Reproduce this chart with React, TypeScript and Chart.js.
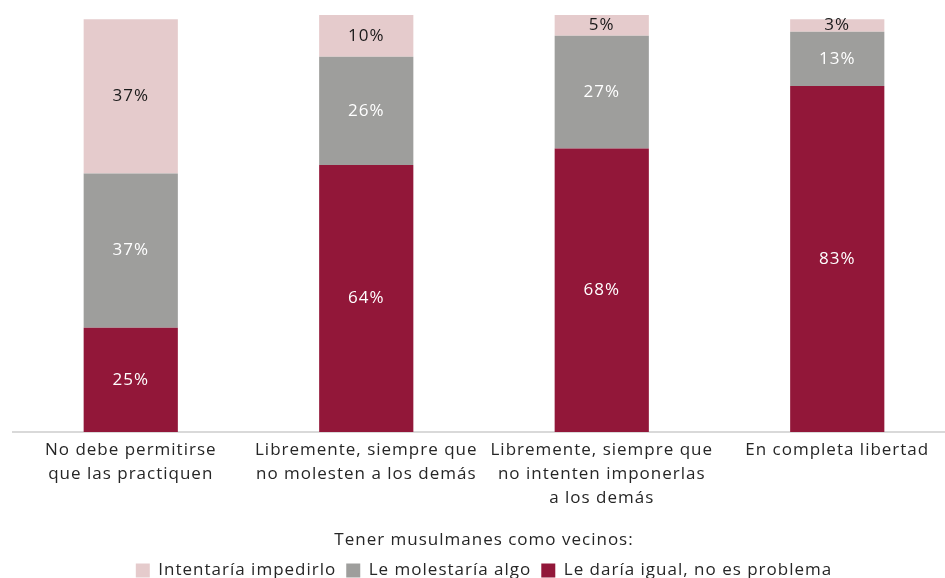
import React, { useEffect, useRef } from "react";
import { Chart, registerables } from "chart.js";

Chart.register(...registerables);

const categories: string[][] = [
  ["No debe permitirse", "que las practiquen"],
  ["Libremente, siempre que", "no molesten a los demás"],
  ["Libremente, siempre que", "no intenten imponerlas", "a los demás"],
  ["En completa libertad"],
];
const seriesNames = ["Le daría igual, no es problema", "Le molestaría algo", "Intentaría impedirlo"];
const igual = [25, 64, 68, 83];
const molestaria = [37, 26, 27, 13];
const impedir = [37, 10, 5, 3];
const axisTitle = "Tener musulmanes como vecinos:";

const COLORS = ["#921739", "#9E9E9C", "#E5CBCC"];
const LABEL_COLORS = ["#ffffff", "#ffffff", "#1a1a1a"];
const FONT = "'Open Sans'";
const SPACING = "1px";

const spacingPlugin = {
  id: "spacing",
  beforeUpdate(chart: any) {
    chart.ctx.letterSpacing = SPACING;
  },
  beforeDraw(chart: any) {
    chart.ctx.letterSpacing = SPACING;
  },
};

const labelPlugin = {
  id: "segLabels",
  afterDatasetsDraw(chart: any) {
    const ctx = chart.ctx;
    ctx.save();
    ctx.letterSpacing = SPACING;
    ctx.font = `17px ${FONT}`;
    ctx.textAlign = "center";
    ctx.textBaseline = "middle";
    chart.data.datasets.forEach((ds: any, i: number) => {
      const meta = chart.getDatasetMeta(i);
      meta.data.forEach((bar: any, j: number) => {
        const v = ds.data[j];
        const cy = (bar.y + bar.base) / 2;
        ctx.fillStyle = LABEL_COLORS[i];
        ctx.fillText(`${v}%`, bar.x, cy);
      });
    });
    ctx.restore();
  },
};

export default function App() {
  const ref = useRef<HTMLCanvasElement>(null);
  useEffect(() => {
    if (!ref.current) return;
    const chart = new Chart(ref.current, {
      type: "bar",
      data: {
        labels: categories,
        datasets: [
          { label: seriesNames[0], data: igual, backgroundColor: COLORS[0] },
          { label: seriesNames[1], data: molestaria, backgroundColor: COLORS[1] },
          { label: seriesNames[2], data: impedir, backgroundColor: COLORS[2] },
        ],
      },
      options: {
        responsive: false,
        animation: false,
        layout: { padding: { top: 15, left: 13, right: 0, bottom: 11 } },
        datasets: { bar: { barPercentage: 0.4, categoryPercentage: 1 } },
        scales: {
          x: {
            stacked: true,
            grid: { display: false, drawTicks: false },
            border: { display: true, color: "#d9d9d9", width: 2 },
            ticks: {
              color: "#262626",
              padding: 6,
              maxRotation: 0,
              autoSkip: false,
              font: { family: FONT, size: 17, lineHeight: 24 / 17 },
            },
            title: {
              display: true,
              text: axisTitle,
              color: "#262626",
              padding: { top: 12, bottom: 0 },
              font: { family: FONT, size: 17, lineHeight: 24 / 17 },
            },
          },
          y: { stacked: true, display: false, min: 0, max: 100 },
        },
        plugins: {
          legend: {
            position: "bottom",
            reverse: true,
            labels: {
              boxWidth: 14,
              boxHeight: 14,
              padding: 10,
              color: "#262626",
              font: { family: FONT, size: 17 },
            },
          },
          tooltip: { enabled: false },
        },
      },
      plugins: [spacingPlugin, labelPlugin],
    });
    return () => chart.destroy();
  }, []);
  return (
    <div style={{ position: "absolute", left: 0, top: 0, width: 945, height: 578, overflow: "hidden", background: "#fff" }}>
      <canvas ref={ref} width={955} height={600} />
    </div>
  );
}
